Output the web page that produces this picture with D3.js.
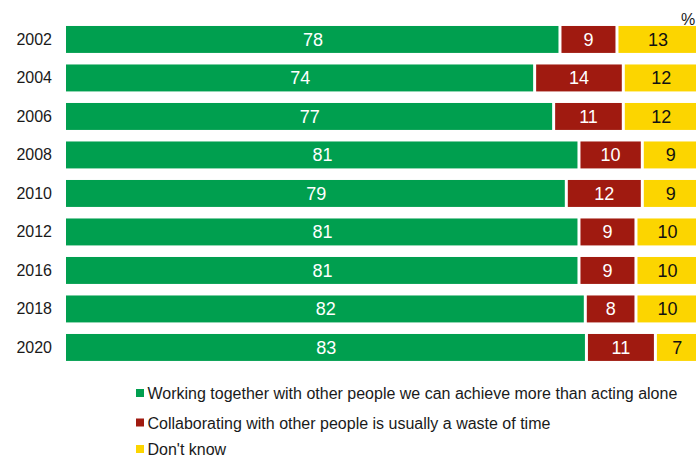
<!DOCTYPE html>
<html>
<head>
<meta charset="utf-8">
<script src="https://cdn.jsdelivr.net/npm/d3@7"></script>
<style>
  html, body { margin: 0; padding: 0; background: #fff; }
  svg { display: block; font-family: "Liberation Sans", Arial, sans-serif; }
</style>
</head>
<body>
<svg id="chart" width="696" height="457"></svg>
<script>
const years = ["2002", "2004", "2006", "2008", "2010", "2012", "2016", "2018", "2020"];
const working = [78, 74, 77, 81, 79, 81, 81, 82, 83];
const waste = [9, 14, 11, 10, 12, 9, 9, 8, 11];
const dontKnow = [13, 12, 12, 9, 9, 10, 10, 10, 7];
const seriesKeys = ["working", "waste", "dontKnow"];
const seriesNames = [
  "Working together with other people we can achieve more than acting alone",
  "Collaborating with other people is usually a waste of time",
  "Don't know"
];
const colors = ["#009f4f", "#a01a10", "#fcd500"];
const textColors = ["#ffffff", "#ffffff", "#111111"];

const rows = years.map((y, i) => ({ year: y, working: working[i], waste: waste[i], dontKnow: dontKnow[i] }));

const svg = d3.select("#chart");

const x = d3.scaleLinear().domain([0, 1]).range([66, 699.3]);
const y = d3.scaleBand().domain(years).range([20.2, 366.7]).paddingInner(0.3).paddingOuter(0.15);

const stacked = d3.stack().keys(seriesKeys).offset(d3.stackOffsetExpand)(rows);

const gap = 1.5;
const g = svg.append("g");
stacked.forEach((s, si) => {
  const grp = g.append("g");
  grp.selectAll("rect").data(s).join("rect")
    .attr("x", d => x(d[0]) + (d[0] > 0 ? gap : 0))
    .attr("width", d => x(d[1]) - gap - (x(d[0]) + (d[0] > 0 ? gap : 0)))
    .attr("y", d => y(d.data.year))
    .attr("height", y.bandwidth())
    .attr("fill", colors[si]);
  grp.selectAll("text").data(s).join("text")
    .attr("x", d => (x(d[0]) + x(d[1])) / 2)
    .attr("y", d => y(d.data.year) + y.bandwidth() / 2)
    .attr("dy", "0.36em")
    .attr("text-anchor", "middle")
    .attr("font-size", 18)
    .attr("fill", textColors[si])
    .text(d => d.data[seriesKeys[si]]);
});

// y axis labels
const yAxis = d3.axisLeft(y).tickSize(0).tickPadding(0);
const ya = svg.append("g").attr("transform", "translate(52,0)").call(yAxis);
ya.select(".domain").remove();
ya.selectAll("text").attr("font-size", 16).attr("fill", "#1a1a1a")
  .attr("font-family", "'Liberation Sans', Arial, sans-serif");

// percent sign
svg.append("text").attr("x", 681).attr("y", 24.5).attr("font-size", 16).attr("fill", "#1a1a1a").text("%");

// legend
const legend = svg.append("g");
const legendY = [399, 428.5, 455];
seriesNames.forEach((name, i) => {
  const by = legendY[i];
  legend.append("rect").attr("x", 136).attr("y", by - 10).attr("width", 8).attr("height", 8).attr("fill", colors[i]);
  legend.append("text").attr("x", 147.5).attr("y", by).attr("font-size", 16).attr("fill", "#1a1a1a").text(name);
});
</script>
</body>
</html>
